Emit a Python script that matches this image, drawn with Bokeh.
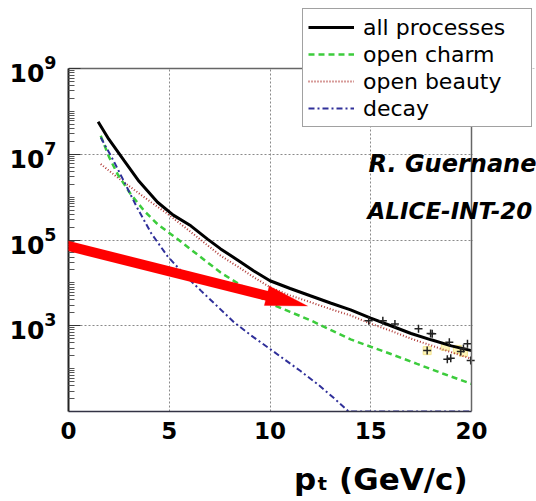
import math
from bokeh.plotting import figure
from bokeh.models import (FixedTicker, Legend, LegendItem, Label, Arrow,
                          PolyAnnotation, BoxAnnotation, LinearAxis)
from bokeh.embed import file_html
from bokeh.resources import INLINE

# ---------------- data ----------------
pt_all = [1.47, 2.0, 2.76, 3.5, 4.42, 5.2, 6.07, 6.9, 7.55, 8.5, 9.2, 10.0,
          11.0, 12.0, 13.0, 14.0, 15.0, 16.0, 17.0, 18.0, 19.0, 20.0]
all_processes = [5.75e7, 2.24e7, 7.1e6, 2.34e6, 7.6e5, 3.8e5, 2.14e5, 1.05e5,
                 6.2e4, 3.16e4, 1.9e4, 1.12e4, 7.4e3, 5.0e3, 3.4e3, 2.35e3,
                 1.5e3, 1.0e3, 660, 470, 340, 263]

pt_charm = [1.6, 2.0, 2.43, 3.09, 3.75, 4.42, 5.41, 6.5, 7.55, 8.5, 9.2, 10.0,
            11.0, 12.0, 13.0, 14.0, 15.0, 16.0, 17.3, 18.6, 20.0]
open_charm = [2.7e7, 8.9e6, 3.47e6, 1.17e6, 4.8e5, 2.34e5, 1.05e5, 4.2e4,
              1.74e4, 9.1e3, 5.75e3, 3.3e3, 2.1e3, 1.35e3, 800, 480, 324,
              219, 129, 76, 44]

pt_beauty = [1.6, 2.4, 3.26, 4.1, 4.91, 5.74, 6.57, 7.55, 8.5, 9.2, 10.0,
             11.0, 12.0, 13.0, 14.0, 15.0, 16.0, 17.0, 18.0, 19.0, 20.0]
open_beauty = [5.9e6, 2.95e6, 1.48e6, 7.6e5, 4.1e5, 2.04e5, 1.0e5, 4.3e4,
               2.24e4, 1.35e4, 7.9e3, 5.1e3, 3.55e3, 2.45e3, 1.74e3, 1.12e3,
               760, 500, 347, 240, 170]

pt_decay = [1.6, 2.2, 2.76, 3.4, 4.1, 4.91, 5.74, 6.57, 7.4, 8.22, 9.05,
            9.88, 10.7, 11.5, 12.4, 13.2, 13.9, 16.0, 18.0, 20.0]
decay = [2.45e7, 7.6e6, 2.3e6, 5.75e5, 1.45e5, 4.2e4, 1.58e4, 6.6e3, 2.8e3,
         1.2e3, 600, 316, 166, 89, 42, 20, 10, 10, 10, 10]

# scattered high-pt entries of "all processes"
pt_noise = [14.9, 15.6, 16.2, 17.37, 17.97, 18.05, 18.9, 17.8, 18.97, 18.8,
            19.47, 19.8, 19.96, 19.6]
noise_vals = [1.3e3, 1.3e3, 1.1e3, 850, 660, 650, 410, 263, 174, 166, 250,
              380, 155, 295]
# light error boxes
pt_box = [17.8, 18.7, 19.3, 19.6]
box_vals = [263, 330, 280, 240]

x_ticks = [0, 5, 10, 15, 20]
y_label_decades = [3, 5, 7, 9]
legend_labels = ["all processes", "open charm", "open beauty", "decay"]
note_lines = ["R. Guernane", "ALICE-INT-20"]
x_title = "pₜ (GeV/c)"
x_title_center = 15.5          # in pt units, where the axis title is centred

# ---------------- geometry ----------------
W, H = 536, 501
FL, FR, FT, FB = 68, 471, 68, 411          # drawn axis box, pixels
X0, X1 = 0, 20
Y0, Y1 = 1e1, 1e9
XPX = (FR - FL) / (X1 - X0)                 # pixels per x unit
DEC = (FB - FT) / (math.log10(Y1) - math.log10(Y0))   # pixels per decade


def px_x(px):
    return X0 + (px - FL) / XPX


def px_y(py):
    return 10 ** (math.log10(Y1) - (py - FT) / DEC)


# the frame reaches the top and right canvas edges so that the legend and the
# notes that overflow the axis box are not clipped
p = figure(width=W, height=H, x_range=(X0, px_x(W)), y_range=(Y0, px_y(0)),
           y_axis_type="log", output_backend="svg", toolbar_location=None,
           min_border_left=FL, min_border_right=0,
           min_border_top=0, min_border_bottom=H - FB)
p.background_fill_color = "white"
p.border_fill_color = "white"
p.outline_line_color = None

# axes
p.xaxis.bounds = (X0, X1)
p.xaxis.ticker = FixedTicker(ticks=x_ticks)
p.xaxis.major_label_text_font = "DejaVu Sans"
p.xaxis.major_label_text_font_style = "bold"
p.xaxis.major_label_text_font_size = "23px"
p.xaxis.major_label_text_color = "black"
p.xaxis.major_label_standoff = 10
p.xaxis.major_tick_in = 0
p.xaxis.major_tick_out = 0
p.xaxis.minor_tick_in = 0
p.xaxis.minor_tick_out = 0
p.xaxis.axis_line_color = "#333344"
p.xaxis.axis_line_width = 1.5

# x axis title, placed below the tick labels toward the right
title_axis = LinearAxis(ticker=FixedTicker(ticks=[x_title_center]),
                        major_label_overrides={x_title_center: x_title},
                        axis_line_color=None, major_tick_line_color=None,
                        minor_tick_line_color=None, major_tick_in=0,
                        major_tick_out=0, minor_tick_in=0, minor_tick_out=0,
                        major_label_standoff=19,
                        major_label_text_font="DejaVu Sans",
                        major_label_text_font_style="bold",
                        major_label_text_font_size="31px",
                        major_label_text_color="black")
p.add_layout(title_axis, "below")

minor = [k * 10 ** n for n in range(1, 9) for k in range(2, 10)]
minor += [10 ** n for n in (2, 4, 6, 8)]
p.yaxis.bounds = (Y0, Y1)
p.yaxis.ticker = FixedTicker(ticks=[10 ** d for d in y_label_decades],
                             minor_ticks=minor)
p.yaxis.major_label_text_font = "DejaVu Sans"
p.yaxis.major_label_text_font_style = "bold"
p.yaxis.major_label_text_font_size = "25px"
p.yaxis.major_label_text_color = "black"
p.yaxis.major_label_standoff = 12
p.yaxis.major_tick_in = 12
p.yaxis.major_tick_out = 0
p.yaxis.minor_tick_in = 6
p.yaxis.minor_tick_out = 0
p.yaxis.major_tick_line_color = "#333333"
p.yaxis.minor_tick_line_color = "#555555"
p.yaxis.axis_line_color = "#222222"
p.yaxis.axis_line_width = 2

for g in (p.xgrid, p.ygrid):
    g.grid_line_color = "#8a8a8a"
    g.grid_line_dash = "2 2"
    g.grid_line_width = 1

# hide grid lines outside the axis box
p.add_layout(BoxAnnotation(left=px_x(FR + 1.5), bottom=Y0, top=Y1,
                           fill_color="white", fill_alpha=1, line_color=None,
                           level="underlay"))
p.add_layout(BoxAnnotation(bottom=px_y(FT - 0.5), fill_color="white",
                           fill_alpha=1, line_color=None, level="underlay"))

# ---------------- curves ----------------
p.scatter(pt_box, box_vals, marker="square", size=8, fill_color="#fff4b0",
          line_color="#f3e28a", alpha=0.9)
r_beauty = p.line(pt_beauty, open_beauty, line_color="#b03a36",
                  line_width=2, line_dash="1 2")
r_charm = p.line(pt_charm, open_charm, line_color="#3ccc3c",
                 line_width=2.5, line_dash="6 4")
r_decay = p.line(pt_decay, decay, line_color="#30309a", line_width=2,
                 line_dash="6 3 2 3")
r_all = p.line(pt_all, all_processes, line_color="black", line_width=3)
p.scatter(pt_noise, noise_vals, marker="cross", size=8, line_color="#222222",
          line_width=1.5)

# top and right edges of the axis box
p.line([X0, X1, X1], [Y1, Y1, Y0], line_color="#666666", line_width=1.5)

# ---------------- annotations ----------------
p.add_layout(Label(x=px_x(368), y=px_y(163), text=note_lines[0],
                   text_font="DejaVu Sans", text_font_style="bold italic",
                   text_font_size="24px", text_color="black",
                   text_baseline="alphabetic"))
p.add_layout(Label(x=px_x(367), y=px_y(210), text=note_lines[1],
                   text_font="DejaVu Sans", text_font_style="bold italic",
                   text_font_size="23px", text_color="black",
                   text_baseline="alphabetic"))

# red arrow (tail at the left edge of the picture)
TAIL = (-6.0, 227.0)
TIP = (307.0, 305.5)
HEAD_LEN, HEAD_HALF = 42.0, 10.0
dx, dy = TIP[0] - TAIL[0], TIP[1] - TAIL[1]
L = math.hypot(dx, dy)
ux, uy = dx / L, dy / L
bx, by = TIP[0] - HEAD_LEN * ux, TIP[1] - HEAD_LEN * uy
p.add_layout(Arrow(x_start=px_x(TAIL[0]), y_start=px_y(TAIL[1]),
                   x_end=px_x(bx + 4 * ux), y_end=px_y(by + 4 * uy),
                   start=None, end=None, line_color="#ff0000",
                   line_width=10))
head_px = [(TIP[0], TIP[1]),
           (bx - HEAD_HALF * uy, by + HEAD_HALF * ux),
           (bx + HEAD_HALF * uy, by - HEAD_HALF * ux)]
p.add_layout(PolyAnnotation(xs=[px_x(a) for a, b in head_px],
                            ys=[px_y(b) for a, b in head_px],
                            fill_color="#ff0000", fill_alpha=1,
                            line_color="#ff0000", line_width=1))

legend = Legend(items=[LegendItem(label=legend_labels[0], renderers=[r_all]),
                       LegendItem(label=legend_labels[1], renderers=[r_charm]),
                       LegendItem(label=legend_labels[2], renderers=[r_beauty]),
                       LegendItem(label=legend_labels[3], renderers=[r_decay])],
                location=(302 - FL, FB - 127))
legend.label_text_font = "DejaVu Sans"
legend.label_text_font_size = "22px"
legend.label_text_color = "black"
legend.label_height = 26
legend.glyph_height = 26
legend.glyph_width = 46
legend.label_standoff = 9
legend.label_width = 163
legend.spacing = 1
legend.padding = 5
legend.margin = 0
legend.border_line_color = "#444444"
legend.border_line_width = 1.5
legend.background_fill_color = "white"
legend.background_fill_alpha = 1
p.add_layout(legend)

open("out.html", "w").write(file_html(p, INLINE))
